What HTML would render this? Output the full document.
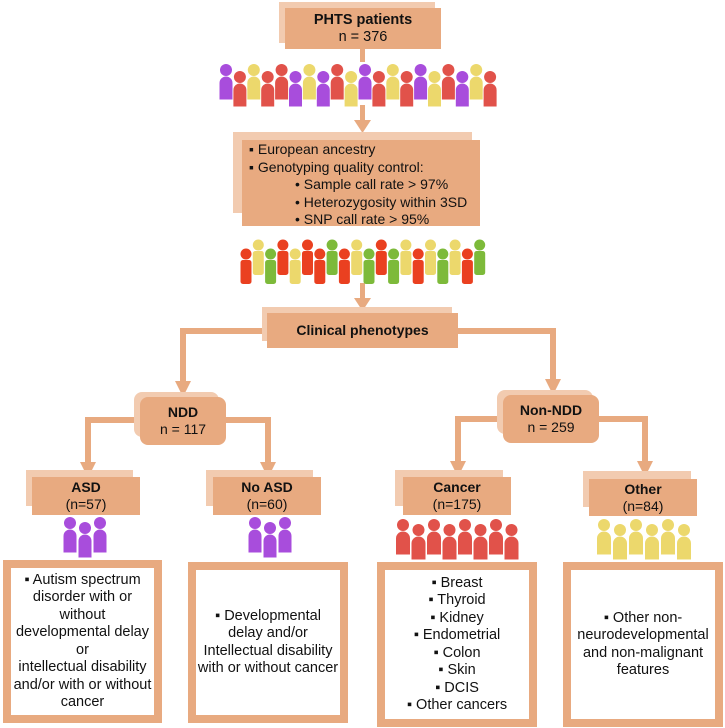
<!DOCTYPE html>
<html><head><meta charset="utf-8">
<style>
body{margin:0;width:725px;height:728px;background:#fff;position:relative;overflow:hidden;font-family:"Liberation Sans",Arial,sans-serif;color:#111}
.b{position:absolute;background:#e8aa80}
.s{position:absolute;background:#f2cbb0}
.t{position:absolute;text-align:center;font-size:14px;line-height:17px}
.w{position:absolute;border:8px solid #e8aa80;background:#fff;box-sizing:border-box;display:flex;align-items:center;justify-content:center;text-align:center;font-size:14.5px;line-height:17.5px}
b{font-weight:bold}
</style></head><body>
<svg id="sv" width="725" height="728" style="position:absolute;left:0;top:0" xmlns="http://www.w3.org/2000/svg">
<g fill="#e8aa80" stroke="none">
<rect x="360" y="48" width="5" height="14"/>
<rect x="360" y="105" width="5" height="18"/><polygon points="354,120 371,120 362.5,133"/>
<rect x="360" y="283" width="5" height="18"/><polygon points="354,298 371,298 362.5,311"/>
<rect x="180" y="328" width="90" height="6"/><rect x="180" y="328" width="6" height="55"/><polygon points="175,381 191,381 183,397"/>
<rect x="455" y="328" width="101" height="6"/><rect x="550" y="328" width="6" height="55"/><polygon points="545,379 561,379 553,395"/>
<rect x="85" y="417" width="57" height="6"/><rect x="85" y="417" width="6" height="47"/><polygon points="80,462 96,462 88,478"/>
<rect x="224" y="417" width="47" height="6"/><rect x="265" y="417" width="6" height="47"/><polygon points="260,462 276,462 268,478"/>
<rect x="455" y="416" width="50" height="6"/><rect x="455" y="416" width="6" height="47"/><polygon points="450,461 466,461 458,477"/>
<rect x="597" y="416" width="51" height="6"/><rect x="642" y="416" width="6" height="47"/><polygon points="637,461 653,461 645,477"/>
</g>
<g id="ppl"></g>
</svg>

<div class="s" style="left:279px;top:2px;width:156px;height:41px"></div>
<div class="b" style="left:285px;top:8px;width:156px;height:41px"></div>
<div class="t" style="left:285px;top:12px;width:156px;font-size:14.5px"><b>PHTS patients</b><br>n = 376</div>

<div class="s" style="left:233px;top:132px;width:239px;height:81px"></div>
<div class="b" style="left:242px;top:140px;width:238px;height:86px"></div>
<div class="t" style="left:249px;top:141px;width:230px;text-align:left;font-size:14px;line-height:17.5px">▪ European ancestry<br>▪ Genotyping quality control:<br><span style="padding-left:46px">• Sample call rate &gt; 97%</span><br><span style="padding-left:46px">• Heterozygosity within 3SD</span><br><span style="padding-left:46px">• SNP call rate &gt; 95%</span></div>

<div class="s" style="left:262px;top:307px;width:190px;height:34px"></div>
<div class="b" style="left:267px;top:313px;width:191px;height:35px"></div>
<div class="t" style="left:267px;top:322px;width:191px"><b>Clinical phenotypes</b></div>

<div class="s" style="left:134px;top:392px;width:85px;height:45px;border-radius:8px"></div>
<div class="b" style="left:140px;top:397px;width:86px;height:48px;border-radius:8px"></div>
<div class="t" style="left:140px;top:404px;width:86px"><b>NDD</b><br>n = 117</div>

<div class="s" style="left:497px;top:390px;width:96px;height:44px;border-radius:8px"></div>
<div class="b" style="left:503px;top:395px;width:96px;height:48px;border-radius:8px"></div>
<div class="t" style="left:503px;top:402px;width:96px"><b>Non-NDD</b><br>n = 259</div>

<div class="s" style="left:26px;top:470px;width:107px;height:36px"></div>
<div class="b" style="left:32px;top:477px;width:108px;height:38px"></div>
<div class="t" style="left:32px;top:479px;width:108px"><b>ASD</b><br>(n=57)</div>

<div class="s" style="left:206px;top:470px;width:107px;height:36px"></div>
<div class="b" style="left:213px;top:477px;width:108px;height:38px"></div>
<div class="t" style="left:213px;top:479px;width:108px"><b>No ASD</b><br>(n=60)</div>

<div class="s" style="left:395px;top:470px;width:108px;height:36px"></div>
<div class="b" style="left:403px;top:477px;width:108px;height:38px"></div>
<div class="t" style="left:403px;top:479px;width:108px"><b>Cancer</b><br>(n=175)</div>

<div class="s" style="left:583px;top:471px;width:108px;height:36px"></div>
<div class="b" style="left:589px;top:479px;width:108px;height:37px"></div>
<div class="t" style="left:589px;top:481px;width:108px"><b>Other</b><br>(n=84)</div>

<div class="w" style="left:3px;top:560px;width:159px;height:163px"><div>▪ Autism spectrum<br>disorder with or<br>without<br>developmental delay<br>or<br>intellectual disability<br>and/or with or without<br>cancer</div></div>
<div class="w" style="left:188px;top:562px;width:160px;height:161px"><div>▪ Developmental<br>delay and/or<br>Intellectual disability<br>with or without cancer</div></div>
<div class="w" style="left:377px;top:562px;width:160px;height:165px"><div>▪ Breast<br>▪ Thyroid<br>▪ Kidney<br>▪ Endometrial<br>▪ Colon<br>▪ Skin<br>▪ DCIS<br>▪ Other cancers</div></div>
<div class="w" style="left:563px;top:562px;width:160px;height:165px"><div>▪ Other non-<br>neurodevelopmental<br>and non-malignant<br>features</div></div>

<script>
var g=document.getElementById('ppl'),h='';
var P='#a84ddc',R='#e1524a',Y='#ecd86c',G='#7dba3a',O='#ea4020';
function fig(cx,hy,r,bw,bh,c,rect){
 h+='<circle cx="'+cx+'" cy="'+hy+'" r="'+r+'" fill="'+c+'"/>';
 var top=hy+r+0.5;
 if(rect){h+='<rect x="'+(cx-bw/2)+'" y="'+top+'" width="'+bw+'" height="'+bh+'" rx="2.5" fill="'+c+'"/>';}
 else{var x0=cx-bw/2,x1=cx+bw/2,rr=bw/2;
 h+='<path d="M'+x0+' '+(top+bh)+' L'+x0+' '+(top+rr)+' A'+rr+' '+rr+' 0 0 1 '+x1+' '+(top+rr)+' L'+x1+' '+(top+bh)+' Z" fill="'+c+'"/>';}
}
var r1=[P,R,Y,R,R,P,Y,P,R,Y,P,R,Y,R,P,Y,R,P,Y,R];
for(var i=0;i<r1.length;i++){fig(226+i*13.9,i%2?77:70,6,13,23,r1[i],false);}
var r2=[O,Y,G,O,Y,O,O,G,O,Y,G,O,G,Y,O,Y,G,Y,O,G];
for(var i=0;i<r2.length;i++){fig(246+i*12.3,i%2?245:254,5.5,11,24,r2[i],true);}
var a=[[63,0],[78,1],[93,0]];
[[70,523],[85,528],[100,523]].forEach(function(p){fig(p[0],p[1],6,13,23,P,false);});
[[255,523],[270,528],[285,523]].forEach(function(p){fig(p[0],p[1],6,13,23,P,false);});
for(var i=0;i<8;i++){fig(403+i*15.5,i%2?530:525,6,14,23,R,false);}
for(var i=0;i<6;i++){fig(604+i*16,i%2?530:525,6,14,23,Y,false);}
g.innerHTML=h;
</script>
</body></html>
